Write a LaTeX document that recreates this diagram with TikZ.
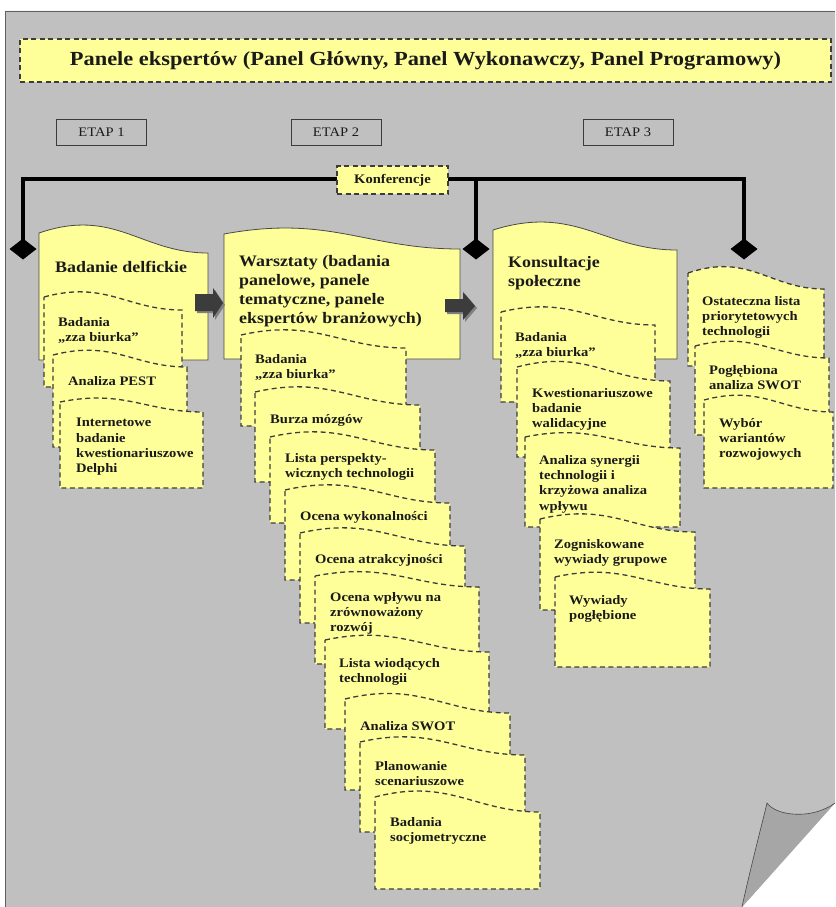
\documentclass[tikz,border=0pt]{standalone}
\usepackage{fontspec}
\setmainfont{Liberation Serif}[FakeStretch=1.12]
\usetikzlibrary{calc}

\definecolor{pagegray}{HTML}{C0C0C0}
\definecolor{curlgray}{HTML}{A6A6A6}
\definecolor{note}{HTML}{FFFF99}
\definecolor{ink}{HTML}{1A1A1A}
\definecolor{arrowdark}{HTML}{3C3C3C}
\definecolor{arrowshade}{HTML}{808080}

% sticky-note outline with a wavy top edge:
% #1 style, #2 left, #3 top at left edge, #4 right, #5 bottom, #6 drop of the wave
\newcommand\notecard[6]{%
  \path[#1] (#2,#3)
    .. controls ({#2+0.45*(#4-#2)},{#3-1.3*#6}) and ({#2+0.6*(#4-#2)},{#3+#6})
    .. (#4,{#3+#6}) -- (#4,#5) -- (#2,#5) -- cycle;}

% note texts: the given point is (close to) the baseline of the first line
\tikzset{
  mainnote/.style={fill=note, draw=ink!80, line width=0.8pt},
  subnote/.style={fill=note, draw=ink!85, line width=1.3pt, dash pattern=on 5pt off 3.5pt},
  smalltxt/.style={font=\fontsize{13}{15.2}\selectfont\bfseries, text=ink,
    align=left, anchor=north west, inner sep=0pt,
    execute at begin node={\strut}, yshift=7.8pt},
  bigtxt/.style={font=\fontsize{16}{19}\selectfont\bfseries, text=ink,
    align=left, anchor=north west, inner sep=0pt,
    execute at begin node={\strut}, yshift=11pt},
  etapbox/.style={draw=ink!85, line width=0.8pt, inner sep=0pt,
    minimum width=90pt, minimum height=26pt, font=\fontsize{13}{15}\selectfont, text=ink},
  dashbox/.style={fill=note, draw=ink!85, line width=1.3pt, dash pattern=on 5pt off 3.5pt,
    inner sep=0pt, text=ink},
  bar/.style={line width=4pt, line join=miter, draw=black},
  blockarrow/.style={fill=arrowdark},
  blockshade/.style={fill=arrowshade},
}

\begin{document}
\begin{tikzpicture}[x=1pt,y=-1pt]
\useasboundingbox (0,0) rectangle (835,907);

% page with a curled lower-right corner
\fill[pagegray] (5,11) -- (835,11) -- (835,803) -- (742,907) -- (5,907) -- cycle;
\draw[ink!70, line width=0.8pt] (5,907) -- (5,11) -- (835,11);
\fill[curlgray] (742,907) .. controls (750,870) and (760,832) .. (767,803)
  .. controls (776,816) and (812,820) .. (835,803) -- cycle;
\draw[ink!80, line width=0.6pt] (742,907) .. controls (750,870) and (760,832) .. (767,803)
  .. controls (776,816) and (812,820) .. (835,803);

% heading
\node[dashbox, minimum width=811pt, minimum height=43pt,
  font=\fontsize{20}{22}\selectfont\bfseries] (title) at (425.5,60.5)
  {Panele ekspertów (Panel Główny, Panel Wykonawczy, Panel Programowy)};

% stages
\node[etapbox] (etap1) at (101.5,132) {ETAP 1};
\node[etapbox] (etap2) at (336,132) {ETAP 2};
\node[etapbox] (etap3) at (628,132) {ETAP 3};

% conference bar with its three drops
\coordinate (bary) at (0,179);
\coordinate (d1) at (23,249);
\coordinate (d2) at (476,249);
\coordinate (d3) at (744,249);
\draw[bar] (d1) -- (d1 |- bary) -- (d3 |- bary) -- (d3);
\draw[bar] (d2 |- bary) -- (d2);
\foreach \d in {d1,d2,d3}
  \fill (\d) +(-13.5,0) -- +(0,-10.5) -- +(13.5,0) -- +(0,10.5) -- cycle;
\node[dashbox, minimum width=111pt, minimum height=28pt,
  font=\fontsize{13}{15}\selectfont\bfseries] (konf) at (392.5,180) {Konferencje};

% stage 1
\notecard{mainnote}{39}{233}{208}{360}{20}
\node[bigtxt] (c1m) at (55,270) {Badanie delfickie};
\notecard{subnote}{44}{297}{182}{387}{13}
\node[smalltxt] (c1s1) at (58,325) {Badania\\„zza biurka”};
\notecard{subnote}{53}{355}{187}{447}{12}
\node[smalltxt] (c1s2) at (68,382) {Analiza PEST};
\notecard{subnote}{60}{402}{203}{488}{10}
\node[smalltxt] (c1s3) at (76,426) {Internetowe\\badanie\\kwestionariuszowe\\Delphi};

% stage 2
\notecard{mainnote}{224}{234}{460}{359}{15}
\node[bigtxt] (c2m) at (239,266) {Warsztaty (badania\\panelowe, panele\\tematyczne, panele\\ekspertów branżowych)};
\notecard{subnote}{241}{335}{406}{426}{13}
\node[smalltxt] (c2s1) at (255,362) {Badania\\„zza biurka”};
\notecard{subnote}{255}{392}{420}{482}{13}
\node[smalltxt] (c2s2) at (270,420) {Burza mózgów};
\notecard{subnote}{270}{437}{435}{523}{13}
\node[smalltxt] (c2s3) at (285,461) {Lista perspekty-\\wicznych technologii};
\notecard{subnote}{285}{490}{450}{580}{13}
\node[smalltxt] (c2s4) at (300,517) {Ocena wykonalności};
\notecard{subnote}{300}{533}{465}{623}{13}
\node[smalltxt] (c2s5) at (315,560) {Ocena atrakcyjności};
\notecard{subnote}{315}{576}{479}{664}{11}
\node[smalltxt] (c2s6) at (330,600) {Ocena wpływu na\\zrównoważony\\rozwój};
\notecard{subnote}{325}{640}{489}{729}{12}
\node[smalltxt] (c2s7) at (339,666) {Lista wiodących\\technologii};
\notecard{subnote}{345}{699}{510}{790}{14}
\node[smalltxt] (c2s8) at (360,727) {Analiza SWOT};
\notecard{subnote}{360}{742}{525}{832}{13}
\node[smalltxt] (c2s9) at (375,769) {Planowanie\\scenariuszowe};
\notecard{subnote}{375}{797}{540}{889}{15}
\node[smalltxt] (c2s10) at (390,825) {Badania\\socjometryczne};

% stage 3
\notecard{mainnote}{493}{230}{677}{359}{20}
\node[bigtxt] (c3m) at (508,267) {Konsultacje\\społeczne};
\notecard{subnote}{501}{312}{655}{402}{13}
\node[smalltxt] (c3s1) at (515,340) {Badania\\„zza biurka”};
\notecard{subnote}{517}{367}{670}{457}{14}
\node[smalltxt] (c3s2) at (532,396) {Kwestionariuszowe\\badanie\\walidacyjne};
\notecard{subnote}{525}{437}{680}{527}{11}
\node[smalltxt] (c3s3) at (539,463) {Analiza synergii\\technologii i\\krzyżowa analiza\\wpływu};
\notecard{subnote}{540}{519}{695}{610}{13}
\node[smalltxt] (c3s4) at (554,547) {Zogniskowane\\wywiady grupowe};
\notecard{subnote}{555}{577}{710}{667}{12}
\node[smalltxt] (c3s5) at (569,603) {Wywiady\\pogłębione};

% final results
\notecard{subnote}{688}{273}{824}{366}{16}
\node[smalltxt] (c4s1) at (702,304) {Ostateczna lista\\priorytetowych\\technologii};
\notecard{subnote}{695}{346}{829}{435}{12}
\node[smalltxt] (c4s2) at (709,373) {Pogłębiona\\analiza SWOT};
\notecard{subnote}{704}{400}{833}{488}{12}
\node[smalltxt] (c4s3) at (719,426) {Wybór\\wariantów\\rozwojowych};

% block arrows between stages
\fill[blockshade] (197,296) -- (215,296) -- (215,290) -- (225,305) -- (215,320) -- (215,313) -- (197,313) -- cycle;
\fill[blockarrow] (195,294) -- (213,294) -- (213,288) -- (223,303) -- (213,318) -- (213,311) -- (195,311) -- cycle;
\fill[blockshade] (447,301) -- (465,301) -- (465,294) -- (477,308) -- (465,322) -- (465,314) -- (447,314) -- cycle;
\fill[blockarrow] (445,299) -- (463,299) -- (463,292) -- (475,306) -- (463,320) -- (463,312) -- (445,312) -- cycle;
\end{tikzpicture}
\end{document}
